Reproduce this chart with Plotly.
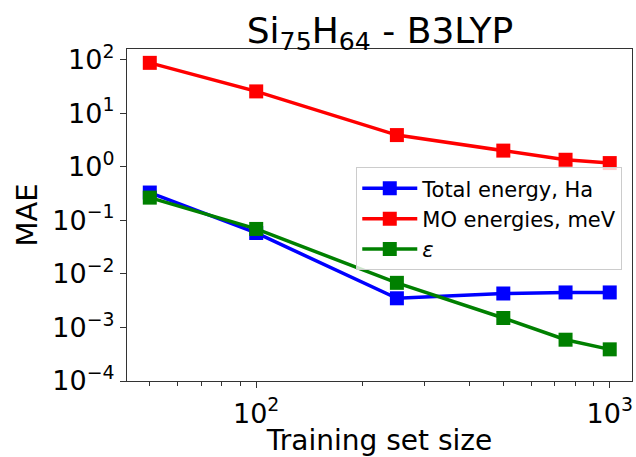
import plotly.graph_objects as go

# Training set sizes and mean absolute errors
train_size = [50, 100, 250, 500, 750, 1000]
mae_total_energy = [0.33, 0.058, 0.0035, 0.0043, 0.0045, 0.0045]
mae_mo_energies = [87, 25.5, 3.9, 2.0, 1.35, 1.17]
mae_eps = [0.265, 0.069, 0.0068, 0.0015, 0.00059, 0.00039]

series_names = ["Total energy, Ha", "MO energies, meV", "<i>\u03b5</i>"]
series_colors = ["#0000ff", "#ff0000", "#008000"]

y_tickvals = [1e-4, 1e-3, 1e-2, 1e-1, 1e0, 1e1, 1e2]
y_ticktext = ["10<sup>\u22124</sup>", "10<sup>\u22123</sup>", "10<sup>\u22122</sup>",
              "10<sup>\u22121</sup>", "10<sup>0</sup>", "10<sup>1</sup>", "10<sup>2</sup>"]
x_tickvals = [100, 1000]
x_ticktext = ["10<sup>2</sup>", "10<sup>3</sup>"]
x_minor = [50, 60, 70, 80, 90, 200, 300, 400, 500, 600, 700, 800, 900]

FONT = "DejaVu Sans"

fig = go.Figure()
for name, vals, col in zip(series_names, [mae_total_energy, mae_mo_energies, mae_eps], series_colors):
    fig.add_trace(go.Scatter(
        x=train_size, y=vals, name=name, mode="lines+markers",
        line=dict(color=col, width=3.5),
        marker=dict(symbol="square", size=14, color=col),
    ))

axis_common = dict(
    showline=True, linecolor="#333333", linewidth=1.2, mirror=True,
    ticks="outside", ticklen=6, tickwidth=1.2, tickcolor="#333333",
    showgrid=False, zeroline=False,
    tickfont=dict(family=FONT, size=27, color="black"),
)

fig.update_xaxes(
    type="log", range=[1.6345, 3.063],
    tickvals=x_tickvals, ticktext=x_ticktext,
    minor=dict(tickvals=x_minor, ticks="outside", ticklen=3.5, tickwidth=1, tickcolor="#333333"),
    title=dict(text="Training set size", font=dict(family=FONT, size=28, color="black"), standoff=6),
    ticklabelstandoff=2,
    **axis_common,
)
fig.update_yaxes(
    type="log", range=[-4, 2.198],
    tickvals=y_tickvals, ticktext=y_ticktext,
    title=dict(text="MAE", font=dict(family=FONT, size=29, color="black"), standoff=6),
    ticklabelstandoff=0,
    **axis_common,
)

fig.update_layout(
    width=636, height=457,
    margin=dict(l=127, r=3, t=49, b=73),
    paper_bgcolor="white", plot_bgcolor="white",
    font=dict(family=FONT, color="black"),
    title=dict(
        text="Si<sub>75</sub>H<sub>64</sub> - B3LYP",
        x=0.5975, xanchor="center", y=1 - 30 / 457, yanchor="middle",
        font=dict(family=FONT, size=36, color="black"),
    ),
    legend=dict(
        x=0.454, y=0.644, xanchor="left", yanchor="top",
        bgcolor="rgba(255,255,255,0.8)", bordercolor="#cccccc", borderwidth=1,
        font=dict(family=FONT, size=21, color="black"),
        itemwidth=55, tracegroupgap=0,
    ),
    showlegend=True,
)

fig.write_html("out.html")
